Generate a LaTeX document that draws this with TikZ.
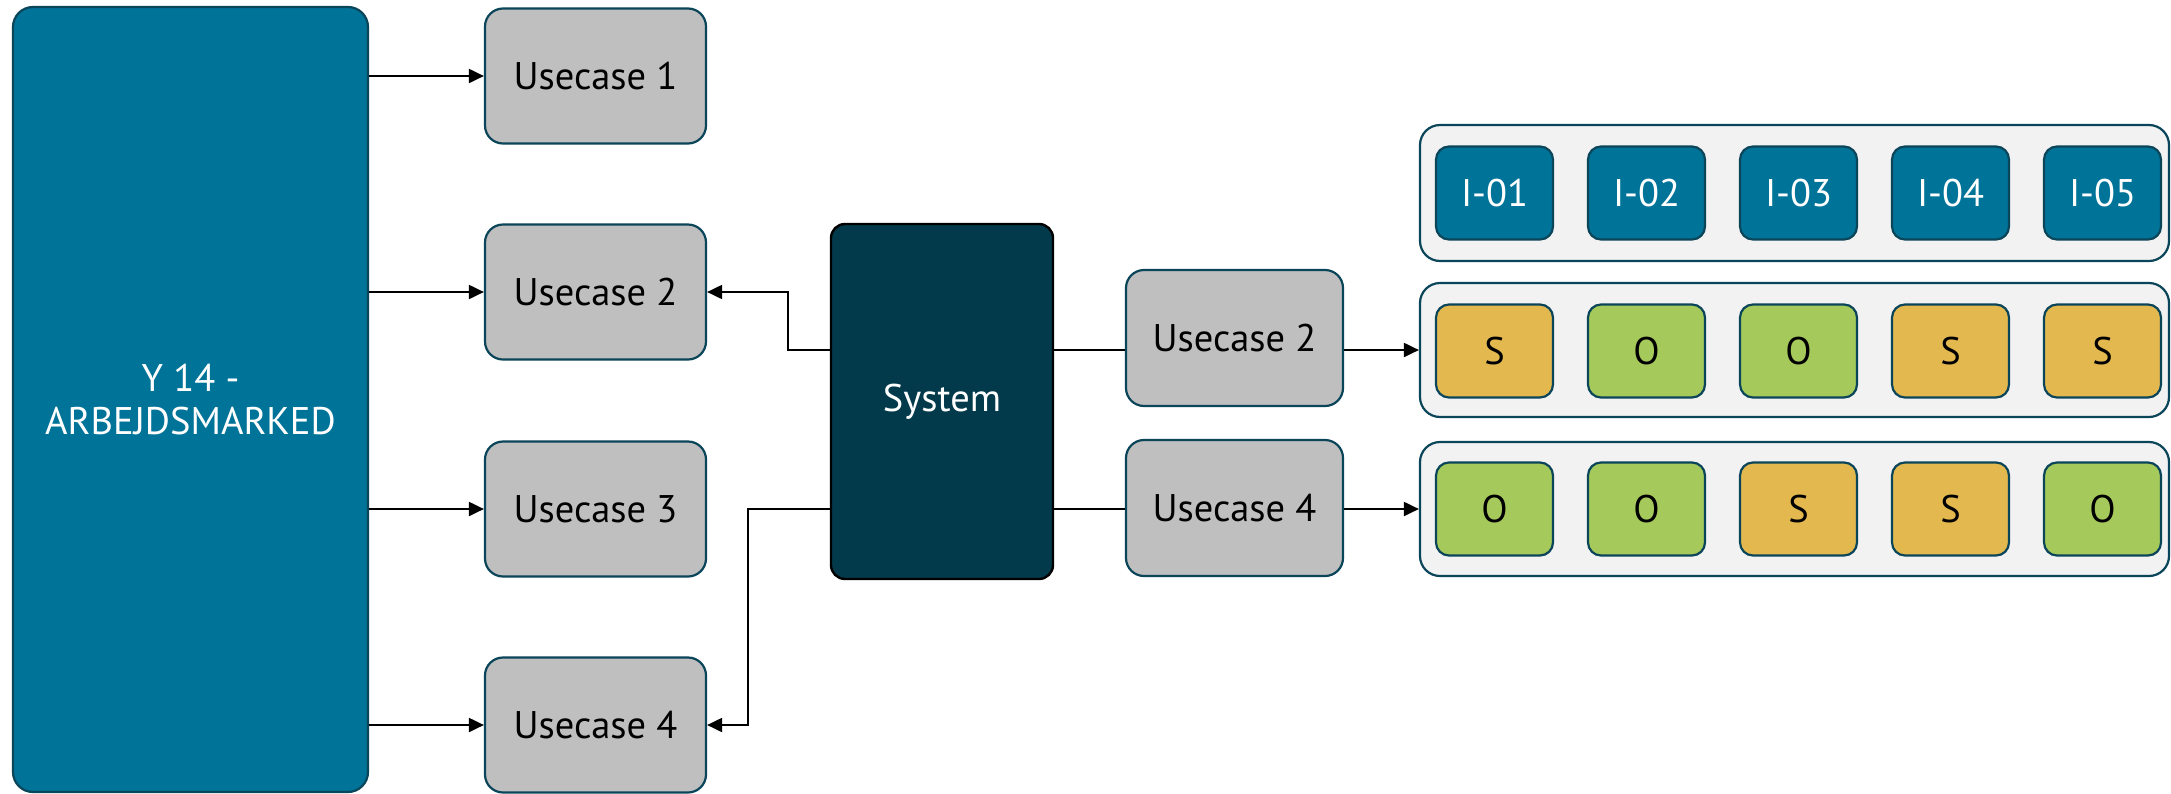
\documentclass[tikz,border=0pt]{standalone}
\usepackage{fontspec}
\setmainfont{PT Sans}
\usetikzlibrary{arrows.meta}
\definecolor{bigblue}{HTML}{007398}
\definecolor{edgeteal}{HTML}{0B4559}
\definecolor{ucgray}{HTML}{BFBFBF}
\definecolor{sysdark}{HTML}{033A4B}
\definecolor{contbg}{HTML}{F2F2F2}
\definecolor{sgold}{HTML}{E3B94F}
\definecolor{ogreen}{HTML}{A5C95A}
\tikzset{
  x=1pt, y=-1pt,
  every node/.style={font=\fontsize{38.5}{43}\selectfont, align=center, inner sep=0pt},
  bigbox/.style={draw=edgeteal, line width=2.2pt, fill=bigblue, text=white, rounded corners=20pt, minimum width=355pt, minimum height=785pt},
  ucbox/.style={draw=edgeteal, line width=2.2pt, fill=ucgray, text=black, rounded corners=18pt, minimum width=221pt, minimum height=135pt},
  sysbox/.style={draw=black, line width=2.4pt, fill=sysdark, text=white, rounded corners=14pt, minimum width=222pt, minimum height=355pt},
  contbox/.style={draw=edgeteal, line width=2.2pt, fill=contbg, rounded corners=20pt, minimum width=749pt, minimum height=134pt},
  ibox/.style={draw=edgeteal, line width=2.2pt, rounded corners=13pt, minimum width=117pt, minimum height=93pt},
  iblue/.style={ibox, fill=bigblue, text=white},
  sbox/.style={ibox, fill=sgold, text=black},
  obox/.style={ibox, fill=ogreen, text=black},
  conn/.style={draw=black, line width=2pt},
  arr/.style={conn, -{Triangle[length=15pt,width=14pt]}},
}
\begin{document}
\begin{tikzpicture}
\useasboundingbox (0,0) rectangle (2171,793);
\fill[white] (0,0) rectangle (2171,793);
% left block
\node[bigbox] (big) at (190.5,399.5) {Y 14 -\\ARBEJDSMARKED};
\node[ucbox] (u1) at (595.5,76) {Usecase 1};
\node[ucbox] (u2) at (595.5,292) {Usecase 2};
\node[ucbox] (u3) at (595.5,509) {Usecase 3};
\node[ucbox] (u4) at (595.5,725) {Usecase 4};
% system
\node[sysbox] (sys) at (942,401.5) {System};
% right usecases
\node[ucbox, minimum width=217pt, minimum height=136pt] (u2r) at (1234.5,338) {Usecase 2};
\node[ucbox, minimum width=217pt, minimum height=136pt] (u4r) at (1234.5,508) {Usecase 4};
% containers
\node[contbox, minimum height=136pt] (c1) at (1794.5,193) {};
\node[contbox] (c2) at (1794.5,350) {};
\node[contbox] (c3) at (1794.5,509) {};
% inner boxes
\node[iblue] (i1) at (1494.5,193) {I-01};
\node[iblue] (i2) at (1646.5,193) {I-02};
\node[iblue] (i3) at (1798.5,193) {I-03};
\node[iblue] (i4) at (1950.5,193) {I-04};
\node[iblue] (i5) at (2102.5,193) {I-05};
\node[sbox] (a1) at (1494.5,351) {S};
\node[obox] (a2) at (1646.5,351) {O};
\node[obox] (a3) at (1798.5,351) {O};
\node[sbox] (a4) at (1950.5,351) {S};
\node[sbox] (a5) at (2102.5,351) {S};
\node[obox] (b1) at (1494.5,509) {O};
\node[obox] (b2) at (1646.5,509) {O};
\node[sbox] (b3) at (1798.5,509) {S};
\node[sbox] (b4) at (1950.5,509) {S};
\node[obox] (b5) at (2102.5,509) {O};
% connectors left
\draw[arr] (big.east |- u1.west) -- (u1.west);
\draw[arr] (big.east |- u2.west) -- (u2.west);
\draw[arr] (big.east |- u3.west) -- (u3.west);
\draw[arr] (big.east |- u4.west) -- (u4.west);
% system to left usecases
\draw[arr] (sys.west |- c2.west) -- ++(-42,0) |- (u2.east);
\draw[arr] (sys.west |- c3.west) -- ++(-82,0) |- (u4.east);
% system to right usecases
\draw[conn] (sys.east |- c2.west) -- (u2r.west |- c2.west);
\draw[conn] (sys.east |- c3.west) -- (u4r.west |- c3.west);
\draw[arr] (u2r.east |- c2.west) -- (c2.west);
\draw[arr] (u4r.east |- c3.west) -- (c3.west);
\end{tikzpicture}
\end{document}
